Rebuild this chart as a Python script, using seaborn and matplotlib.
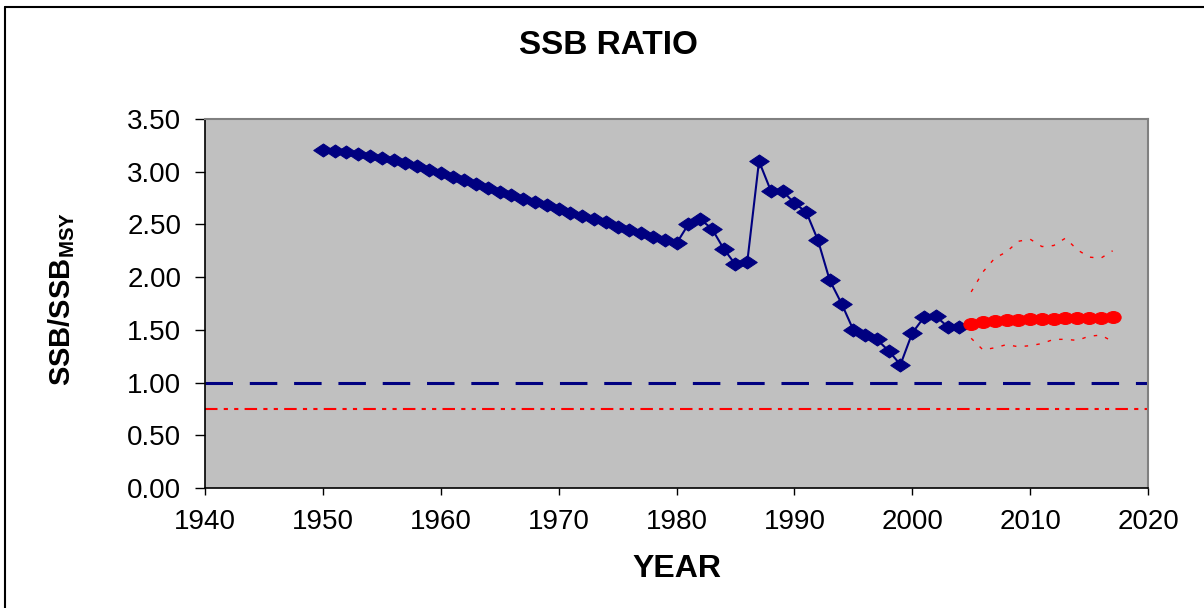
import numpy as np
import pandas as pd
import matplotlib
matplotlib.use("Agg")
import matplotlib.pyplot as plt
from matplotlib.path import Path
from matplotlib.transforms import Affine2D
from matplotlib.lines import Line2D
import seaborn as sns

# historic SSB/SSBmsy
hist_years = list(range(1950, 2005))
hist_ratio = [3.21, 3.20, 3.19, 3.17, 3.15, 3.13, 3.11, 3.08, 3.05, 3.02,
              2.99, 2.95, 2.92, 2.88, 2.85, 2.81, 2.78, 2.74, 2.71, 2.68,
              2.65, 2.61, 2.58, 2.55, 2.52, 2.48, 2.45, 2.42, 2.38, 2.35,
              2.32, 2.50, 2.55, 2.46, 2.27, 2.12, 2.14, 3.10, 2.82, 2.82,
              2.70, 2.62, 2.35, 1.97, 1.75, 1.50, 1.45, 1.41, 1.30, 1.17,
              1.47, 1.62, 1.63, 1.53, 1.53]

# projection + bounds
proj_years = list(range(2005, 2018))
proj_ratio = [1.56, 1.57, 1.58, 1.59, 1.59, 1.60, 1.60, 1.60, 1.61, 1.61, 1.61, 1.61, 1.62]
proj_upper = [1.86, 2.05, 2.18, 2.24, 2.34, 2.36, 2.29, 2.30, 2.37, 2.26, 2.19, 2.18, 2.25]
proj_lower = [1.42, 1.31, 1.33, 1.36, 1.34, 1.35, 1.37, 1.41, 1.41, 1.40, 1.44, 1.45, 1.39]

ref_msy = 1.0
ref_lim = 0.75

df_hist = pd.DataFrame({"year": hist_years, "ratio": hist_ratio})
df_proj = pd.DataFrame({"year": proj_years, "ratio": proj_ratio,
                        "upper": proj_upper, "lower": proj_lower})

sns.set_style("ticks")
plt.rcParams['font.family'] = ['Liberation Sans', 'DejaVu Sans']
plt.rcParams['text.color'] = 'black'
plt.rcParams['axes.labelcolor'] = 'black'
plt.rcParams['mathtext.fontset'] = 'custom'
plt.rcParams['mathtext.rm'] = 'Liberation Sans'
plt.rcParams['mathtext.bf'] = 'Liberation Sans:bold'

navy = "#000080"
red = "#FF0000"

# wide diamond + flat circle like the excel markers
diamond = Path([(-1.0, 0.0), (0.0, 0.67), (1.0, 0.0), (0.0, -0.67), (-1.0, 0.0)],
               [Path.MOVETO, Path.LINETO, Path.LINETO, Path.LINETO, Path.CLOSEPOLY])
ellipse = Path.unit_circle().transformed(Affine2D().scale(1.0, 0.78))

fig = plt.figure(figsize=(12.04, 6.08), dpi=100)
ax = fig.add_axes([205 / 1204, 1 - 488 / 608, 943 / 1204, 369 / 608])
ax.set_facecolor("#C0C0C0")

ax.axhline(ref_msy, color=navy, lw=2.2, linestyle=(0, (9, 5.5)), zorder=2)
ax.axhline(ref_lim, color=red, lw=1.5, linestyle=(0, (6, 3, 2, 3, 2, 3)), zorder=2)

sns.lineplot(data=df_proj, x="year", y="upper", ax=ax, color=red, lw=1.0,
             linestyle=(0, (2.5, 6)), zorder=3)
sns.lineplot(data=df_proj, x="year", y="lower", ax=ax, color=red, lw=1.0,
             linestyle=(0, (2.5, 6)), zorder=3)

sns.lineplot(data=df_hist, x="year", y="ratio", ax=ax, color=navy, lw=1.5,
             marker=diamond, markersize=14, markeredgecolor=navy,
             markerfacecolor=navy, zorder=4)
sns.lineplot(data=df_proj, x="year", y="ratio", ax=ax, color=red, lw=1.5,
             marker=ellipse, markersize=11, markeredgecolor=red,
             markerfacecolor=red, zorder=5)

ax.set_xlim(1940, 2020)
ax.set_ylim(0, 3.5)
ax.set_xticks(range(1940, 2021, 10))
ax.set_yticks(np.arange(0, 3.51, 0.5))
ax.set_yticklabels([f"{v:.2f}" for v in np.arange(0, 3.51, 0.5)])

ax.tick_params(axis="x", direction="out", length=5, width=1, pad=10, labelsize=20, colors="black")
ax.tick_params(axis="y", direction="out", length=7, width=1, pad=10, labelsize=20, colors="black")

for s in ["left", "bottom"]:
    ax.spines[s].set_color("black")
    ax.spines[s].set_linewidth(1.2)
for s in ["top", "right"]:
    ax.spines[s].set_visible(True)
    ax.spines[s].set_color("#808080")
    ax.spines[s].set_linewidth(1.5)

ax.set_xlabel("YEAR", fontsize=23, fontweight="bold", va="center")
ax.xaxis.set_label_coords(0.5, -0.2195)
ax.set_ylabel(r"$\mathbf{SSB/SSB_{MSY}}$", fontsize=21, va="center")
ax.yaxis.set_label_coords(-0.152, 0.512)

fig.text(608 / 1204, 1 - 45 / 608, "SSB RATIO", fontsize=24, fontweight="bold",
         ha="center", va="center")

# outer frame (excel chart border)
fig.add_artist(Line2D([5 / 1204, 5 / 1204], [0, 1 - 7 / 608], transform=fig.transFigure,
                      color="black", lw=1.5))
fig.add_artist(Line2D([5 / 1204, 1], [1 - 7 / 608, 1 - 7 / 608], transform=fig.transFigure,
                      color="black", lw=1.5))

fig.savefig("out.png", dpi=100)
